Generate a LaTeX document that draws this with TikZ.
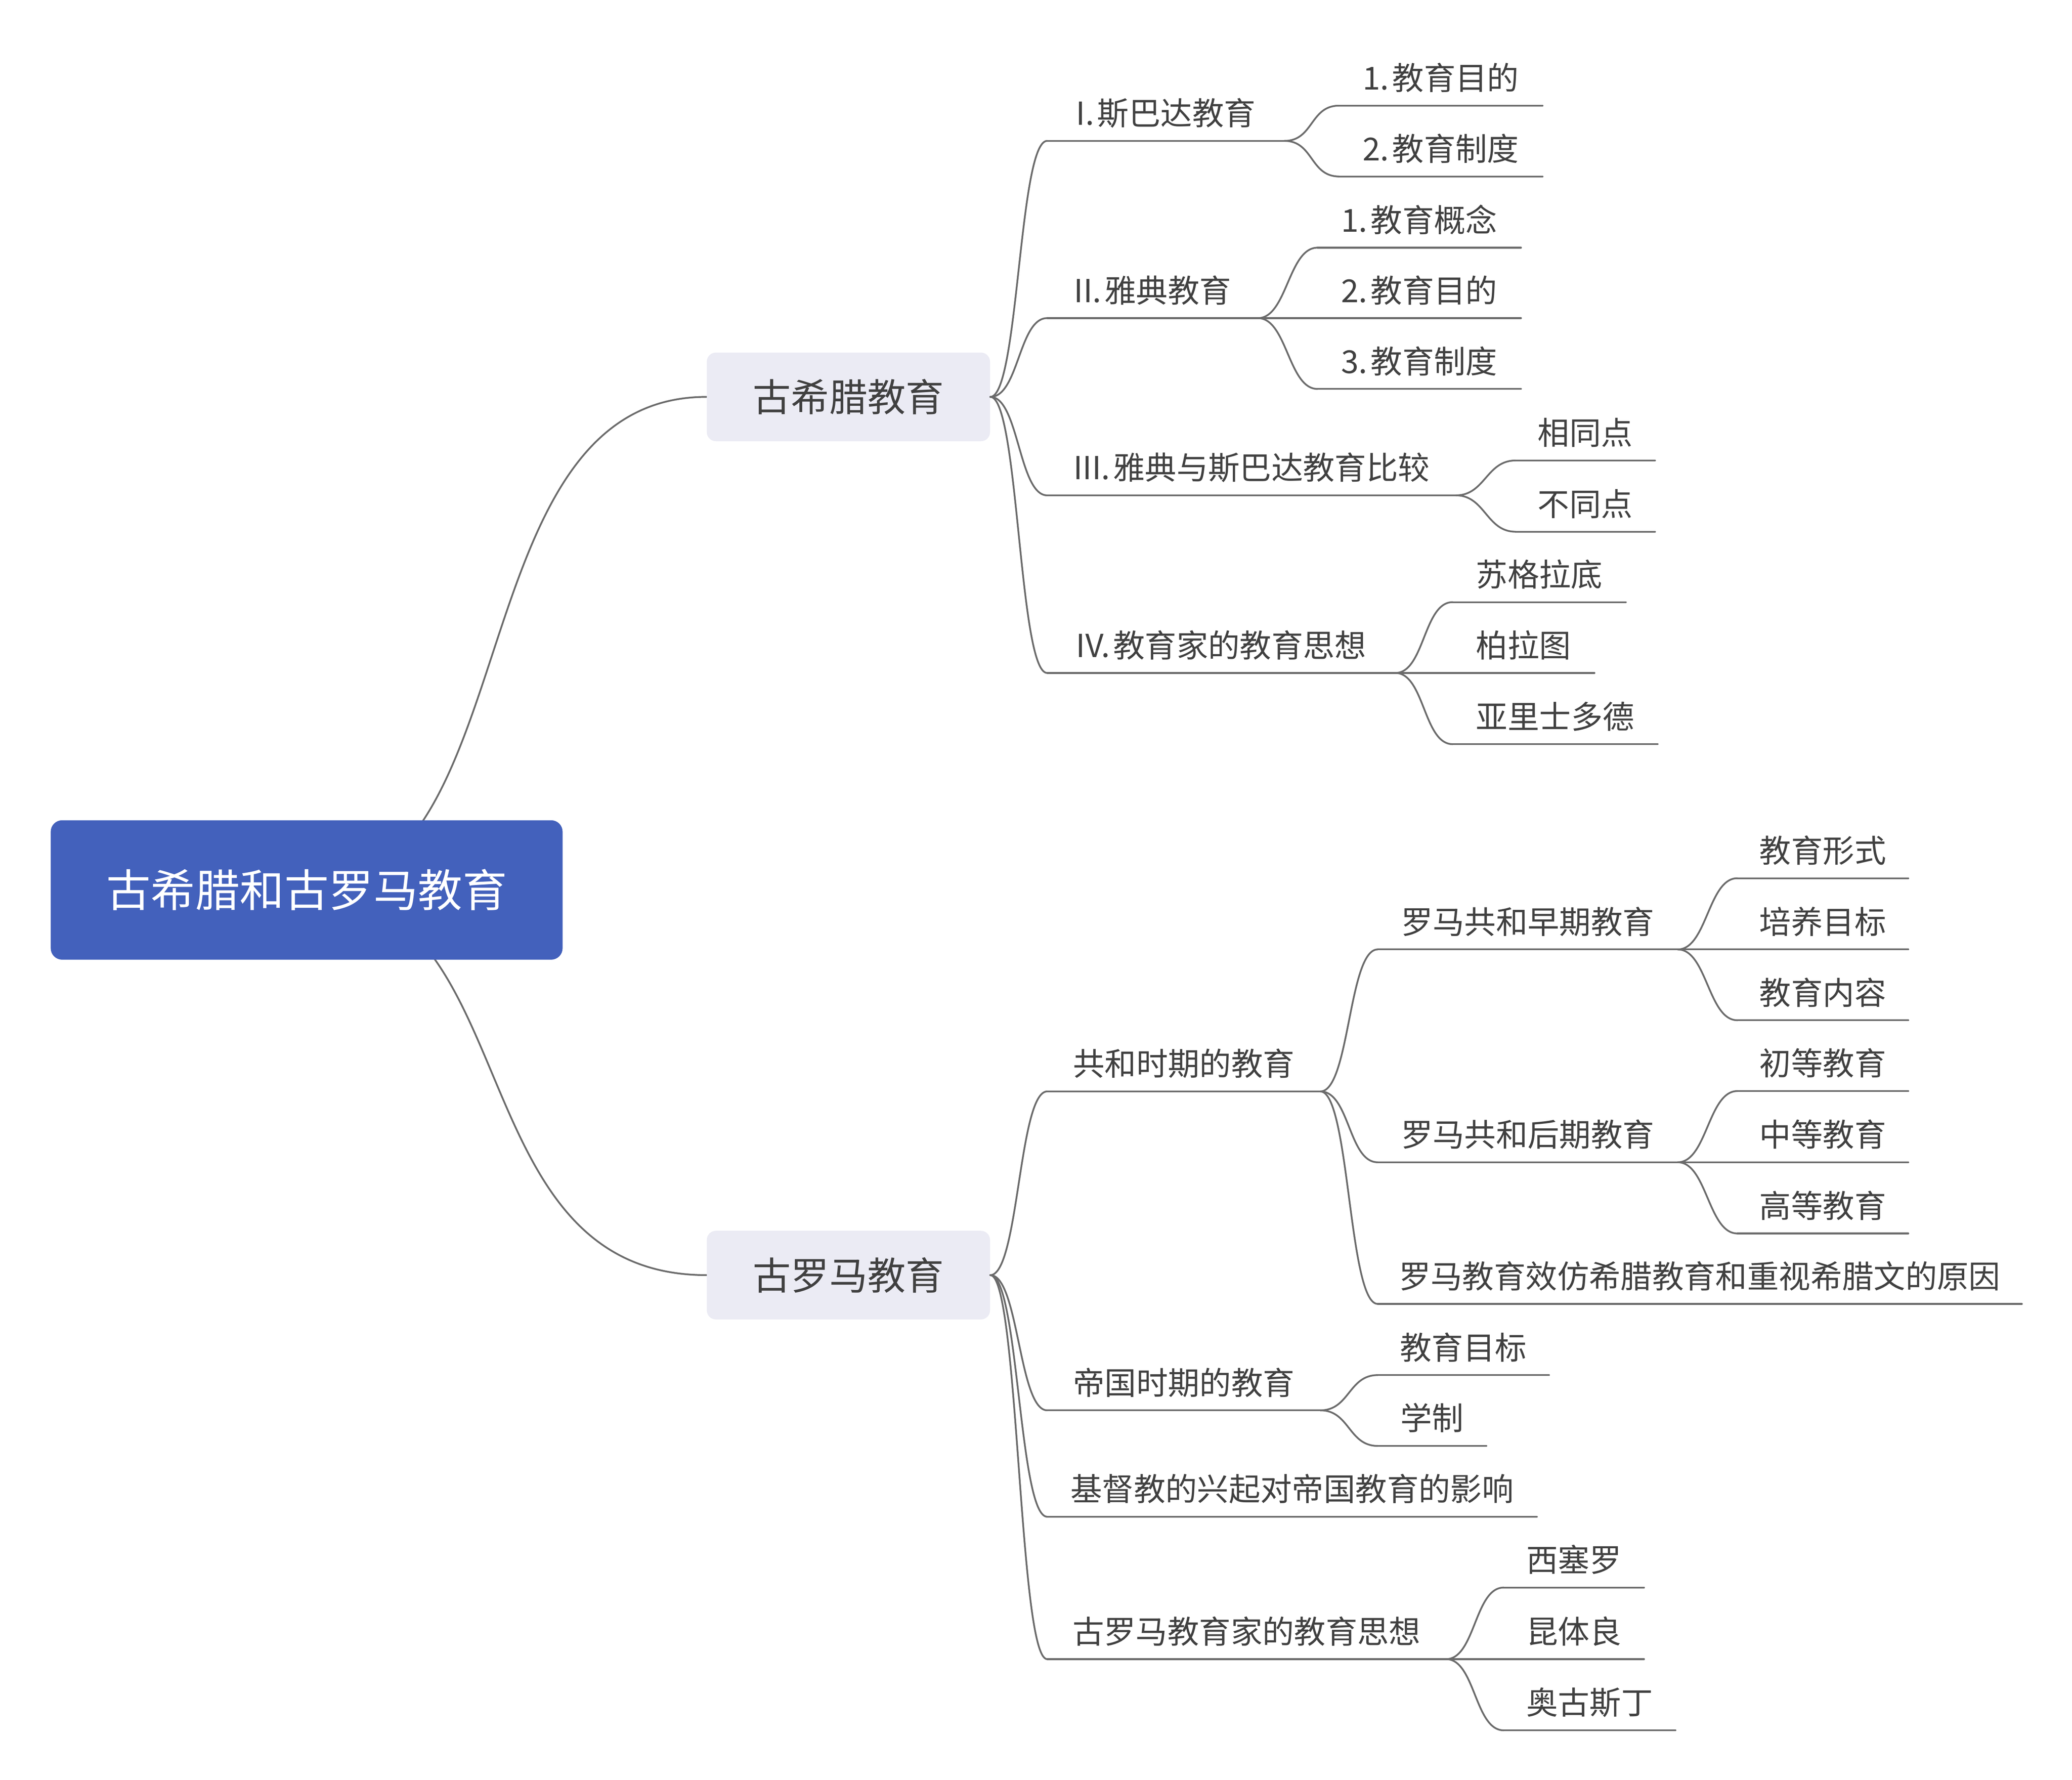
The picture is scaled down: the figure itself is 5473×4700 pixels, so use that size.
\documentclass[tikz,border=0pt]{standalone}
\usepackage{fontspec}
\newfontfamily\cjk{Noto Sans CJK SC}
\definecolor{rootblue}{HTML}{4361BC}
\definecolor{mainfill}{HTML}{EBEBF4}
\definecolor{txtgray}{HTML}{404040}
\definecolor{linegray}{HTML}{6B6B6B}
\pgfdeclarelayer{background}
\pgfsetlayers{background,main}
\newcommand{\dt}{.\kern0.1em}
\tikzset{
  conn/.style={draw=linegray, line width=1.15pt, line cap=round},
  sub/.style={anchor=south west, inner xsep=0pt, inner ysep=10.25pt,
    text height=15.9pt, text depth=0pt, text=txtgray,
    font=\cjk\fontsize{20.9pt}{25pt}\selectfont},
  mainbox/.style={fill=mainfill, rounded corners=6pt, minimum width=187pt,
    minimum height=58.5pt, inner sep=0pt, text height=19.2pt, text depth=0pt,
    text=txtgray, font=\cjk\fontsize{25.25pt}{30pt}\selectfont},
  rootbox/.style={fill=rootblue, rounded corners=7.5pt, minimum width=338pt,
    minimum height=92pt, inner sep=0pt, text height=22.3pt, text depth=0pt,
    text=white, font=\cjk\fontsize{29.4pt}{35pt}\selectfont},
}
\begin{document}
\begin{tikzpicture}[x=0.25pt,y=-0.25pt]
\begin{pgfonlayer}{background}
\fill[white] (0,0) rectangle (5473,4700);
\end{pgfonlayer}
\useasboundingbox (0,0) rectangle (5473,4700);

% root and main topics
\node[rootbox] (root) at (810,2350) {古希腊和古罗马教育};
\node[mainbox] (G) at (2241,1048) {古希腊教育};
\node[mainbox] (R) at (2241,3367) {古罗马教育};

% Greek subtree
\node[sub, minimum width=156.25pt] (A1) at (2766,372) {I\dt 斯巴达教育};
\node[sub, minimum width=134pt] (A11) at (3537,279) {1\dt 教育目的};
\node[sub, minimum width=134pt] (A12) at (3537,466) {2\dt 教育制度};
\node[sub, minimum width=138.75pt] (A2) at (2766,840) {II\dt 雅典教育};
\node[sub, minimum width=134pt] (A21) at (3480,654) {1\dt 教育概念};
\node[sub, minimum width=134pt] (A22) at (3480,840) {2\dt 教育目的};
\node[sub, minimum width=134pt] (A23) at (3480,1027) {3\dt 教育制度};
\node[sub, minimum width=269.5pt] (A3) at (2766,1308) {III\dt 雅典与斯巴达教育比较};
\node[sub, minimum width=91.75pt] (A31) at (4003,1216) {相同点};
\node[sub, minimum width=91.75pt] (A32) at (4003,1404) {不同点};
\node[sub, minimum width=229.5pt] (A4) at (2766,1777) {IV\dt 教育家的教育思想};
\node[sub, minimum width=114pt] (A41) at (3837,1590) {苏格拉底};
\node[sub, minimum width=93.25pt] (A42) at (3837,1777) {柏拉图};
\node[sub, minimum width=135pt] (A43) at (3837,1965) {亚里士多德};

% Roman subtree
\node[sub, minimum width=180pt] (B1) at (2766,2882) {共和时期的教育};
\node[sub, minimum width=197.75pt] (B11) at (3639,2507) {罗马共和早期教育};
\node[sub, minimum width=112.5pt] (B111) at (4589,2319) {教育形式};
\node[sub, minimum width=112.5pt] (B112) at (4589,2507) {培养目标};
\node[sub, minimum width=112.5pt] (B113) at (4589,2694) {教育内容};
\node[sub, minimum width=197.75pt] (B12) at (3639,3069) {罗马共和后期教育};
\node[sub, minimum width=112.5pt] (B121) at (4589,2881) {初等教育};
\node[sub, minimum width=112.5pt] (B122) at (4589,3069) {中等教育};
\node[sub, minimum width=112.5pt] (B123) at (4589,3257) {高等教育};
\node[sub, minimum width=425pt] (B13) at (3639,3443) {罗马教育效仿希腊教育和重视希腊文的原因};
\node[sub, minimum width=180pt] (B2) at (2766,3724) {帝国时期的教育};
\node[sub, minimum width=112.75pt] (B21) at (3639,3631) {教育目标};
\node[sub, minimum width=71.4pt] (B22) at (3639,3818) {学制};
\node[sub, minimum width=323pt] (B3) at (2766,4005) {基督教的兴起对帝国教育的影响};
\node[sub, minimum width=263pt] (B4) at (2766,4381) {古罗马教育家的教育思想};
\node[sub, minimum width=92.25pt] (B41) at (3972,4192) {西塞罗};
\node[sub, minimum width=92.25pt] (B42) at (3972,4381) {昆体良};
\node[sub, minimum width=113pt] (B43) at (3972,4569) {奥古斯丁};

% underlines
\foreach \n in {A1,A11,A12,A2,A21,A22,A23,A3,A31,A32,A4,A41,A42,A43,
  B1,B11,B111,B112,B113,B12,B121,B122,B123,B13,B2,B21,B22,B3,B4,B41,B42,B43}
  \draw[conn] (\n.south west) -- (\n.south east);

% connectors
\begin{pgfonlayer}{background}
\draw[conn] (root.center) .. controls +(590,0) and +(-665,0) .. (G.west);
\draw[conn] (root.center) .. controls +(590,0) and +(-665,0) .. (R.west);
\end{pgfonlayer}

\foreach \c in {A1,A2,A3,A4}
  \draw[conn] (G.east) .. controls +(75,0) and +(-75,0) .. (\c.south west);
\foreach \c in {B1,B2,B3,B4}
  \draw[conn] (R.east) .. controls +(75,0) and +(-75,0) .. (\c.south west);

\foreach \p/\c in {A1/A11,A1/A12,A2/A21,A2/A22,A2/A23,A3/A31,A3/A32,
  A4/A41,A4/A42,A4/A43,B1/B11,B1/B12,B1/B13,B11/B111,B11/B112,B11/B113,
  B12/B121,B12/B122,B12/B123,B2/B21,B2/B22,B4/B41,B4/B42,B4/B43}
  \draw[conn] (\p.south east) .. controls +(77,0) and +(-77,0) .. (\c.south west);
\end{tikzpicture}
\end{document}
